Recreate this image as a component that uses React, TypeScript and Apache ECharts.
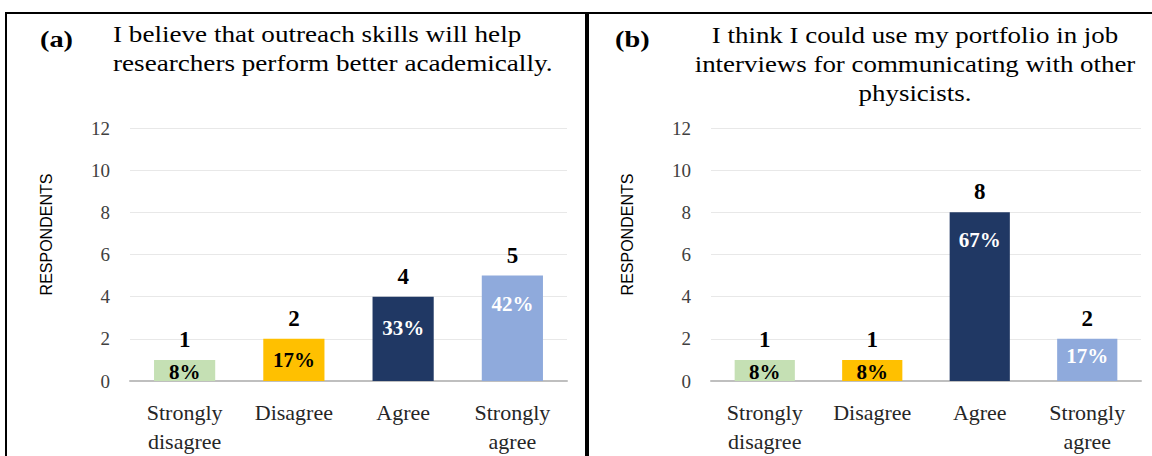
import React, { useEffect, useRef } from "react";
import * as echarts from "echarts";

const categories = ["Strongly\ndisagree", "Disagree", "Agree", "Strongly\nagree"];
const countsA = [1, 2, 4, 5];
const countsB = [1, 1, 8, 2];
const pctA = ["8%", "17%", "33%", "42%"];
const pctB = ["8%", "8%", "67%", "17%"];
const yMin = 0;
const yMax = 12;
const yStep = 2;
const tagA = "(a)";
const tagB = "(b)";
const titleA = "I believe that outreach skills will help\nresearchers perform better academically.";
const titleB = "I think I could use my portfolio in job\ninterviews for communicating with other\nphysicists.";
const yName = "RESPONDENTS";

const barColors = ["#C5E0B4", "#FFC000", "#203864", "#8FAADC"];
const pctColors = ["#000000", "#000000", "#ffffff", "#ffffff"];
// distance (px) from bar top to the percent label, per panel
const pctDistA = [2, 11, 21, 18];
const pctDistB = [2, 2, 17, 7];

const SERIF = "'Liberation Serif', 'Times New Roman', serif";

export default function App() {
  const ref = useRef<HTMLDivElement>(null);
  useEffect(() => {
    if (!ref.current) return;
    const chart = echarts.init(ref.current, undefined, { renderer: "svg" });
    const grids = [
      { left: 130, top: 128, width: 437, height: 258 },
      { left: 711, top: 128, width: 430, height: 258 },
    ];
    const xAxes = grids.map((_, i) => ({
      type: "category",
      gridIndex: i,
      data: categories,
      axisTick: { show: false },
      axisLine: { lineStyle: { color: "#bfbfbf", width: 2 } },
      axisLabel: {
        interval: 0,
        fontFamily: SERIF,
        fontSize: 22,
        lineHeight: 29,
        color: "#262626",
        margin: 17,
      },
    }));
    const yAxes = grids.map((_, i) => ({
      type: "value",
      gridIndex: i,
      min: yMin,
      max: yMax,
      interval: yStep,
      name: yName,
      nameLocation: "middle",
      nameGap: 76,
      nameRotate: 90,
      nameTextStyle: {
        fontFamily: "'Liberation Sans', Arial, sans-serif",
        fontSize: 16,
        color: "#000",
        padding: [0, 0, 0, 40],
      },
      axisLine: { show: false },
      axisTick: { show: false },
      axisLabel: {
        fontFamily: SERIF,
        fontSize: 19,
        color: "#404040",
        margin: 20,
      },
      splitLine: { lineStyle: { color: "#e8e8e8", width: 1 } },
    }));
    const mkSeries = (i: number, counts: number[], pcts: string[], dists: number[]) => [
      {
        type: "bar",
        xAxisIndex: i,
        yAxisIndex: i,
        barWidth: "56%",
        data: counts.map((v, k) => ({ value: v, itemStyle: { color: barColors[k] } })),
        label: {
          show: true,
          position: "top",
          distance: 9,
          fontFamily: SERIF,
          fontWeight: "bold",
          fontSize: 23,
          color: "#000",
        },
      },
      {
        type: "bar",
        xAxisIndex: i,
        yAxisIndex: i,
        barWidth: "56%",
        barGap: "-100%",
        silent: true,
        itemStyle: { color: "transparent" },
        data: counts.map((v, k) => ({
          value: v,
          label: {
            show: true,
            position: "insideTop",
            distance: dists[k],
            formatter: pcts[k],
            color: pctColors[k],
          },
        })),
        label: {
          fontFamily: SERIF,
          fontWeight: "bold",
          fontSize: 21,
        },
      },
    ];
    chart.setOption({
      animation: false,
      backgroundColor: "#ffffff",
      grid: grids,
      xAxis: xAxes,
      yAxis: yAxes,
      series: [...mkSeries(0, countsA, pctA, pctDistA), ...mkSeries(1, countsB, pctB, pctDistB)],
      graphic: [
        {
          type: "polyline",
          shape: { points: [[6, 460], [6, 13], [586, 13], [586, 460]] },
          style: { stroke: "#000", lineWidth: 2, fill: "none" },
        },
        {
          type: "line",
          shape: { x1: 586, y1: 13, x2: 1152, y2: 13 },
          style: { stroke: "#000", lineWidth: 2 },
        },
        {
          type: "line",
          shape: { x1: 587, y1: 12, x2: 587, y2: 460 },
          style: { stroke: "#000", lineWidth: 4 },
        },
        {
          type: "text",
          x: 40,
          y: 27,
          scaleX: 1.18,
          style: { text: tagA, font: `bold 24px ${SERIF}`, fill: "#000", verticalAlign: "top" },
        },
        {
          type: "text",
          x: 113,
          y: 20,
          scaleX: 1.18,
          style: {
            text: titleA,
            font: `23px ${SERIF}`,
            lineHeight: 29,
            fill: "#000",
            verticalAlign: "top",
          },
        },
        {
          type: "text",
          x: 615,
          y: 27,
          scaleX: 1.18,
          style: { text: tagB, font: `bold 24px ${SERIF}`, fill: "#000", verticalAlign: "top" },
        },
        {
          type: "text",
          x: 915,
          y: 21,
          scaleX: 1.17,
          style: {
            text: titleB,
            font: `23px ${SERIF}`,
            lineHeight: 29,
            fill: "#000",
            align: "center",
            verticalAlign: "top",
          },
        },
      ],
    });
    return () => chart.dispose();
  }, []);
  return (
    <div
      ref={ref}
      style={{ position: "fixed", left: 0, top: 0, width: 1152, height: 456 }}
    />
  );
}
